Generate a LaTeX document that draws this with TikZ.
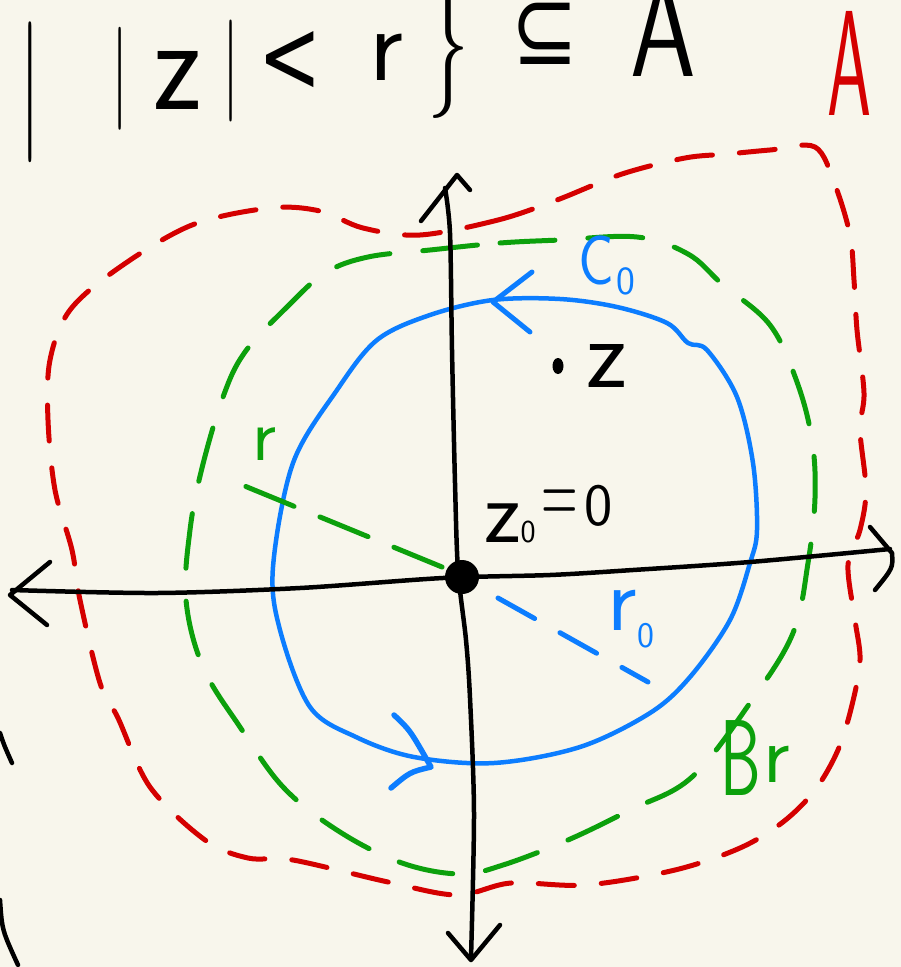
\documentclass[tikz,border=0pt]{standalone}
\usepackage{fontspec}
\usepackage{graphicx}
\newfontfamily\symfont{DejaVu Sans}
\definecolor{bg}{RGB}{248,246,236}
\definecolor{hred}{RGB}{212,0,0}
\definecolor{hgreen}{RGB}{12,160,12}
\definecolor{hblue}{RGB}{12,125,255}
\newcommand\fs[1]{\fontsize{#1}{#1}\selectfont}
\tikzset{
  ink/.style={line width=5pt, line cap=round, line join=round},
  axis/.style={ink, black, line width=4.5pt},
  lbl/.style={inner sep=0pt, outer sep=0pt, font=\sffamily},
  reddash/.style={ink, hred, dash pattern=on 36pt off 27pt},
  greendash/.style={ink, hgreen, dash pattern=on 55pt off 33pt},
}
\begin{document}
\begin{tikzpicture}[x=1pt,y=-1pt]
\fill[bg] (0,0) rectangle (901,967);
\useasboundingbox (0,0) rectangle (901,967);

% region A (red dashed)
\draw[reddash] plot[smooth cycle, tension=0.55] coordinates {
 (420,235) (498,220) (557,200) (622,174) (685,158) (728,154) (770,150) (815,147)
 (835,185) (850,235) (854,280) (857,330) (864,393) (860,430) (866,490) (860,530)
 (848,565) (855,620) (860,660) (852,705) (838,750) (815,790) (783,822) (740,848)
 (675,870) (586,885) (511,883) (457,895) (388,882) (293,860) (248,858) (205,840)
 (150,787) (118,718) (100,683) (80,600) (72,550) (55,490) (48,420) (50,360)
 (70,310) (120,267) (192,225) (270,208) (320,211) (363,228)};

% disc B_r (green dashed)
\draw[greendash] plot[smooth cycle, tension=0.6] coordinates {
 (430,250) (500,243) (560,240) (637,237) (688,254) (722,284) (770,325) (797,382)
 (812,440) (815,498) (808,563) (793,633) (752,700) (692,777) (630,810) (568,840)
 (503,865) (460,874) (402,863) (340,832) (284,788) (240,727) (203,667) (186,600)
 (190,530) (202,468) (223,397) (245,352) (287,307) (325,273) (368,257)};

% circle C_0 (blue)
\draw[ink, hblue, line width=4.5pt] plot[smooth cycle, tension=0.55] coordinates {
 (493,300) (560,299) (617,307) (667,323) (688,343) (707,350) (737,397) (753,463)
 (757,530) (750,563) (730,620) (690,677) (650,713) (580,747) (494,763) (414,757)
 (356,737) (310,707) (280,630) (273,567) (293,463) (337,390) (377,340) (430,315)};

% axes
\coordinate (O) at (462,577);
\draw[axis] plot[smooth, tension=0.5] coordinates {
 (12,590) (157,593) (300,588) (443,578) (550,575) (633,570) (750,562) (890,549)};
\draw[axis] plot[smooth, tension=0.5] coordinates {
 (445,188) (450,233) (452,350) (455,483) (458,570) (466,640) (470,698) (474,813) (471,958)};
% axis arrowheads
\draw[axis] (50,562) -- (10,595) -- (47,625);
\draw[axis] (870,527) -- (892,553) .. controls (893,568) .. (875,590);
\draw[axis] (421,221) -- (457,175) -- (470,190);
\draw[axis] (448,933) -- (471,960) -- (500,925);
% cut-off strokes at the left edge
\draw[axis] (0,733) .. controls (4,745) .. (12,763);
\draw[axis] (0,900) .. controls (2,930) .. (18,965);

% radii
\draw[ink, hgreen, dash pattern=on 52pt off 28pt] (442,567) -- (230,480);
\draw[ink, hblue, dash pattern=on 42pt off 29pt] (498,598) -- (648,682);

% orientation arrows on C_0
\draw[ink, hblue] (532,272) -- (493,302) -- (530,332);
\draw[ink, hblue, line width=5.5pt] (394,715) .. controls (410,730) .. (431,767) .. controls (410,772) .. (391,788);

% origin and point z
\fill[black] (O) circle (17);
\fill[black] (558,366) ellipse (5.5 and 8);

% top formula
\node[lbl] (bar1) at (30,92) {\fs{141}\scalebox{0.55}[1]{|}};
\node[lbl] (bar2) at (120,79) {\fs{103}\scalebox{0.6}[1]{|}};
\node[lbl] (zz) at (178,80) {\fs{135}\scalebox{0.88}[1]{z}};
\node[lbl] (bar3) at (231,71) {\fs{102}\scalebox{0.6}[1]{|}};
\node[lbl] (lt) at (290,62) {\symfont\fs{105}\scalebox{0.72}[1]{<}};
\node[lbl] (rr) at (386,57) {\fs{106}r};
\node[lbl] (br) at (448,48) {\fs{140}\scalebox{0.6}[1]{\}}};
\node[lbl] (sub) at (545,34) {\symfont\fs{100}\scalebox{0.8}[1]{⊆}};
\node[lbl] (AA) at (663,28) {\fs{140}\scalebox{0.75}[1]{A}};

% labels
\node[lbl, text=hred] (labA) at (850,63) {\fs{150}\scalebox{0.47}[1]{A}};
\node[lbl, text=hblue, anchor=base west] (labC) at (578,284) {\fs{70}\scalebox{0.85}[1]{C}\kern3pt\raisebox{-10pt}{\fs{40}0}};
\node[lbl, text=hblue, anchor=base west] (labr0) at (607,630) {\fs{92}r\kern1pt\raisebox{-17pt}{\fs{36}0}};
\node[lbl, text=hgreen, anchor=base west] (labB) at (720,795) {\fs{108}\scalebox{0.6}[1]{B}\kern3pt\raisebox{13pt}{\fs{83}r}};
\node[lbl, text=hgreen, anchor=base west] (labr) at (252,460) {\fs{75}r};
\node[lbl, anchor=base west] (labz) at (586,387) {\fs{100}z};
\node[lbl, anchor=base west] (labz0) at (484,542) {\fs{90}z{\fs{32}0}\raisebox{17pt}{\kern6pt\fs{100}\scalebox{0.5}[1]{=}\kern6pt\fs{60}0}};
\end{tikzpicture}
\end{document}
